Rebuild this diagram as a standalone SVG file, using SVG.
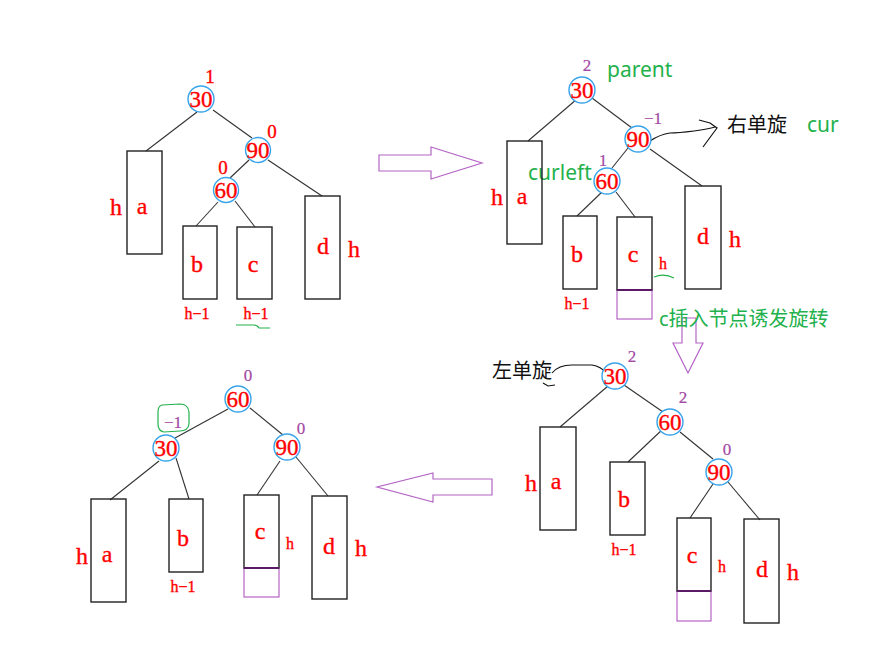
<svg xmlns="http://www.w3.org/2000/svg" width="874" height="667" viewBox="0 0 874 667">
<style>
.bg{fill:#fff}
.c{fill:#fff;stroke:#3aa4ea;stroke-width:1.4}
.box{fill:none;stroke:#222;stroke-width:1.4}
.pbox{fill:none;stroke:#b055c0;stroke-width:1.1}
.pline{stroke:#5a1a66;stroke-width:2}
.edge{stroke:#333;stroke-width:1.1;fill:none}
.t{font-family:"Liberation Serif","Noto Sans CJK SC",serif;fill:#f00;stroke:#f00;stroke-width:0.35;text-anchor:middle;dominant-baseline:central}
.n{font-size:23px}
.l{font-size:24px}
.bf{font-size:19px}
.s{font-size:16px}
.p{fill:#a349a4;stroke:#a349a4;stroke-width:0.2;font-size:17px}
.g{font-family:"Noto Sans","Noto Sans CJK SC",sans-serif;fill:#22b14c;font-size:21px}
.k{font-family:"Noto Sans CJK SC","Noto Sans",sans-serif;fill:#111;font-size:20px}
.arrow{fill:#fff;stroke:#b464c4;stroke-width:1.2}
.hand{fill:none;stroke:#111;stroke-width:1.2}
.gh{fill:none;stroke:#22b14c;stroke-width:1.2}
</style>
<rect class="bg" x="0" y="0" width="874" height="667"/>

<!-- Big arrows -->
<g id="arrows">
<path class="arrow" d="M379,155 L431,155 L431,147 L482,163 L431,179 L431,171 L379,171 Z"/>
<path class="arrow" d="M682,318 L696,318 L696,343 L703,343 L688,373 L673,343 L682,343 Z"/>
<path class="arrow" d="M492,479 L433,479 L433,473 L377,487 L433,502 L433,495 L492,495 Z"/>
</g>

<!-- Connectors -->
<g id="connectors">
<!-- tree 1 -->
<line class="edge" x1="197" y1="112" x2="146" y2="151"/>
<line class="edge" x1="213" y1="110" x2="252" y2="138"/>
<line class="edge" x1="249" y1="160" x2="230" y2="178"/>
<line class="edge" x1="268" y1="160" x2="322" y2="196"/>
<line class="edge" x1="218" y1="202" x2="196" y2="226"/>
<line class="edge" x1="235" y1="201" x2="255" y2="227"/>
<!-- tree 2 -->
<line class="edge" x1="577" y1="99" x2="528" y2="141"/>
<line class="edge" x1="592" y1="98" x2="632" y2="128"/>
<line class="edge" x1="628" y1="148" x2="612" y2="168"/>
<line class="edge" x1="650" y1="149" x2="702" y2="186"/>
<line class="edge" x1="602" y1="192" x2="577" y2="216"/>
<line class="edge" x1="616" y1="192" x2="635" y2="217"/>
<!-- tree 3 -->
<line class="edge" x1="608" y1="386" x2="560" y2="427"/>
<line class="edge" x1="624" y1="385" x2="663" y2="412"/>
<line class="edge" x1="664" y1="428" x2="628" y2="462"/>
<line class="edge" x1="680" y1="432" x2="713" y2="459"/>
<line class="edge" x1="713" y1="484" x2="690" y2="518"/>
<line class="edge" x1="728" y1="482" x2="760" y2="520"/>
<!-- tree 4 -->
<line class="edge" x1="228" y1="409" x2="175" y2="438"/>
<line class="edge" x1="250" y1="408" x2="283" y2="435"/>
<line class="edge" x1="159" y1="461" x2="110" y2="500"/>
<line class="edge" x1="176" y1="458" x2="189" y2="499"/>
<line class="edge" x1="280" y1="461" x2="257" y2="495"/>
<line class="edge" x1="296" y1="457" x2="328" y2="496"/>
<!-- hand-drawn rotation pointers -->
<path class="hand" d="M650,141 C656,137 662,134 670,133 C678,133 686,132 694,131 C702,130 709,129 715,127"/>
<path class="hand" d="M699,120 L710,123 L717,128 L703,147"/>
<path class="hand" d="M552,373 C556,368 562,365 572,365 L592,365 C598,366 603,369 606,373"/>
<path class="hand" d="M543,383 L548,386 L555,385"/>
</g>

<!-- ===== Tree 1 (top-left) ===== -->
<g id="t1-n30"><circle class="c" cx="201" cy="99" r="13"/><text class="t n" x="201" y="99">30</text><text class="t bf" x="210" y="76">1</text></g>
<g id="t1-n90"><circle class="c" cx="258" cy="150" r="12.5"/><text class="t n" x="258" y="150">90</text><text class="t bf" x="272" y="131">0</text></g>
<g id="t1-n60"><circle class="c" cx="226" cy="190" r="12.5"/><text class="t n" x="226" y="190">60</text><text class="t bf" x="223" y="167">0</text></g>
<g id="t1-a"><rect class="box" x="127" y="151" width="35" height="103"/><text class="t l" x="142" y="206">a</text><text class="t l" x="116" y="207">h</text></g>
<g id="t1-b"><rect class="box" x="183" y="226" width="34" height="73"/><text class="t l" x="197" y="264">b</text><text class="t s" x="197" y="313">h−1</text></g>
<g id="t1-c"><rect class="box" x="237" y="227" width="35" height="72"/><text class="t l" x="253" y="264">c</text><text class="t s" x="256" y="313">h−1</text><path class="gh" d="M236,325 L254,325 Q257,325 259,328 L270,328"/></g>
<g id="t1-d"><rect class="box" x="305" y="196" width="35" height="103"/><text class="t l" x="323" y="246">d</text><text class="t l" x="354" y="249">h</text></g>

<!-- ===== Tree 2 (top-right) ===== -->
<g id="t2-n30"><circle class="c" cx="582" cy="90" r="13"/><text class="t n" x="582" y="90">30</text><text class="t p" x="587" y="65">2</text><text class="g" x="607" y="77">parent</text></g>
<g id="t2-n90"><circle class="c" cx="638" cy="139" r="13"/><text class="t n" x="638" y="139">90</text><text class="t p" x="653" y="118">−1</text><text class="k" x="727" y="132">右单旋</text><text class="g" x="807" y="132">cur</text></g>
<g id="t2-n60"><circle class="c" cx="607" cy="181" r="13"/><text class="t n" x="607" y="181">60</text><text class="t p" x="603" y="160">1</text><text class="g" x="528" y="180">curleft</text></g>
<g id="t2-a"><rect class="box" x="507" y="141" width="35" height="103"/><text class="t l" x="522" y="196">a</text><text class="t l" x="497" y="197">h</text></g>
<g id="t2-b"><rect class="box" x="563" y="216" width="34" height="73"/><text class="t l" x="577" y="254">b</text><text class="t s" x="577" y="303">h−1</text></g>
<g id="t2-c"><rect class="pbox" x="617" y="290" width="35" height="29"/><rect class="box" x="617" y="217" width="35" height="73"/><line class="pline" x1="617" y1="290" x2="652" y2="290"/><text class="t l" x="633" y="254">c</text><text class="t s" x="663" y="263">h</text><path class="gh" d="M654,277 Q664,273 674,278"/><text class="g" x="659" y="326" style="font-size:20px">c插入节点诱发旋转</text></g>
<g id="t2-d"><rect class="box" x="685" y="186" width="36" height="103"/><text class="t l" x="703" y="236">d</text><text class="t l" x="735" y="239">h</text></g>

<!-- ===== Tree 3 (bottom-right) ===== -->
<g id="t3-n30"><circle class="c" cx="615" cy="376" r="13"/><text class="t n" x="615" y="376">30</text><text class="t p" x="632" y="356">2</text><text class="k" x="492" y="378">左单旋</text></g>
<g id="t3-n60"><circle class="c" cx="670" cy="422" r="13"/><text class="t n" x="670" y="422">60</text><text class="t p" x="683" y="397">2</text></g>
<g id="t3-n90"><circle class="c" cx="719" cy="472" r="13"/><text class="t n" x="719" y="472">90</text><text class="t p" x="727" y="449">0</text></g>
<g id="t3-a"><rect class="box" x="540" y="427" width="36" height="103"/><text class="t l" x="556" y="481">a</text><text class="t l" x="531" y="483">h</text></g>
<g id="t3-b"><rect class="box" x="610" y="462" width="35" height="73"/><text class="t l" x="624" y="499">b</text><text class="t s" x="624" y="549">h−1</text></g>
<g id="t3-c"><rect class="pbox" x="677" y="591" width="34" height="30"/><rect class="box" x="677" y="518" width="34" height="73"/><line class="pline" x1="677" y1="591" x2="711" y2="591"/><text class="t l" x="692" y="555">c</text><text class="t s" x="722" y="566">h</text></g>
<g id="t3-d"><rect class="box" x="744" y="519" width="35" height="104"/><text class="t l" x="762" y="569">d</text><text class="t l" x="793" y="572">h</text></g>

<!-- ===== Tree 4 (bottom-left) ===== -->
<g id="t4-n60"><circle class="c" cx="238" cy="399" r="13"/><text class="t n" x="238" y="399">60</text><text class="t p" x="248" y="375">0</text></g>
<g id="t4-n30"><circle class="c" cx="166" cy="448" r="13"/><text class="t n" x="166" y="448">30</text><path class="gh" d="M162,405 L180,404 Q188,404 189,412 L189,424 Q188,431 180,431 L164,432 Q158,431 158,424 L158,412 Q158,406 162,405 Z"/><text class="t p" x="173" y="422">−1</text></g>
<g id="t4-n90"><circle class="c" cx="287" cy="447" r="13"/><text class="t n" x="287" y="447">90</text><text class="t p" x="301" y="428">0</text></g>
<g id="t4-a"><rect class="box" x="91" y="499" width="35" height="103"/><text class="t l" x="107" y="554">a</text><text class="t l" x="82" y="556">h</text></g>
<g id="t4-b"><rect class="box" x="169" y="499" width="34" height="73"/><text class="t l" x="183" y="538">b</text><text class="t s" x="183" y="586">h−1</text></g>
<g id="t4-c"><rect class="pbox" x="244" y="568" width="35" height="29"/><rect class="box" x="244" y="495" width="35" height="73"/><line class="pline" x1="244" y1="568" x2="279" y2="568"/><text class="t l" x="260" y="531">c</text><text class="t s" x="290" y="543">h</text></g>
<g id="t4-d"><rect class="box" x="312" y="496" width="35" height="103"/><text class="t l" x="329" y="546">d</text><text class="t l" x="361" y="548">h</text></g>
</svg>
